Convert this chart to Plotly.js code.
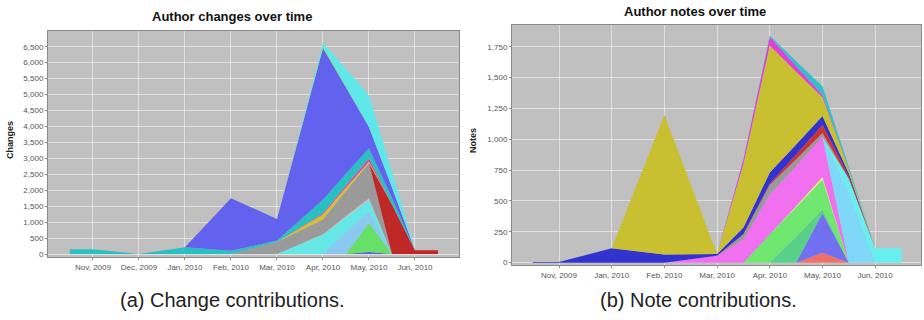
<!DOCTYPE html>
<html><head><meta charset="utf-8">
<script src="https://cdn.plot.ly/plotly-3.0.1.min.js"></script>
<style>html,body{margin:0;padding:0;background:#fff}#chart{width:924px;height:320px}</style>
</head><body><div id="chart"></div>
<script>
// ===== Left chart: Author changes over time (x = month index, .5 = half-way) =====
const changeMonths = ['Nov, 2009','Dec, 2009','Jan, 2010','Feb, 2010','Mar, 2010','Apr, 2010','May, 2010','Jun, 2010'];
const chgSmallBlueX = [5.5, 6, 6.5];            const chgSmallBlueY = [0, 60, 0];
const chgGreenX     = [5.5, 6, 6.5];            const chgGreenY     = [0, 910, 0];
const chgSkyX       = [5, 5.5, 6, 6.5];         const chgSkyY       = [0, 700, 380, 0];
const chgCyanX      = [4, 5, 5.5, 6, 6.5];      const chgCyanY      = [0, 600, 460, 350, 0];
const chgPinkX      = [4, 5, 6, 6.5];           const chgPinkY      = [0, 20, 50, 0];
const chgGrayX      = [3, 4, 5, 6, 6.5];        const chgGrayY      = [0, 380, 460, 1100, 0];
const chgRedX       = [6, 6.5, 7, 7.5];         const chgRedY       = [0, 1550, 120, 120];
const chgYellowX    = [4, 5, 6, 6.5];           const chgYellowY    = [0, 170, 50, 0];
const chgMagentaX   = [4, 5, 6, 6.5];           const chgMagentaY   = [0, 30, 100, 0];
const chgTealX      = [-0.5, 0, 1, 2, 3, 4, 5, 6, 6.5, 7];
const chgTealY      = [150, 150, 0, 210, 100, 40, 420, 320, 205, 0];
const chgBlueX      = [2, 3, 4, 5, 6, 6.5, 7];  const chgBlueY      = [0, 1650, 680, 4750, 660, 330, 0];
const chgLimeX      = [4, 5, 6];                const chgLimeY      = [0, 60, 0];
const chgAquaX      = [4, 5, 6, 6.5, 7];        const chgAquaY      = [0, 110, 1000, 500, 0];

// ===== Right chart: Author notes over time =====
const noteMonths = ['Nov, 2009','Jan, 2010','Feb, 2010','Mar, 2010','Apr, 2010','May, 2010','Jun, 2010'];
const ntSalmonX   = [4.5, 5, 5.5];              const ntSalmonY   = [0, 80, 0];
const ntPurpleX   = [4.5, 5, 5.5];              const ntPurpleY   = [0, 320, 0];
const ntMintX     = [4, 4.5, 5, 5.5];           const ntMintY     = [0, 210, 30, 0];
const ntGreenX    = [3.5, 4, 4.5, 5, 5.5];      const ntGreenY    = [0, 230, 240, 244, 0];
const ntPaleX     = [4, 5, 5.5];                const ntPaleY     = [0, 20, 0];
const ntPinkX     = [2, 3, 4, 5, 5.5];          const ntPinkY     = [0, 55, 320, 326, 0];
const ntSkyX      = [5, 5.5, 6];                const ntSkyY      = [0, 560, 0];
const ntCyanX     = [5, 5.5, 6, 6.5];           const ntCyanY     = [0, 120, 116, 116];
const ntGrayX     = [3, 4, 5, 5.5];             const ntGrayY     = [0, 80, 30, 0];
const ntRedX      = [3, 4, 5, 5.5, 6];          const ntRedY      = [0, 10, 66, 20, 0];
const ntBlueX     = [-0.5, 0, 1, 2, 3, 4, 5, 5.5, 6];
const ntBlueY     = [5, 5, 116, 67, 15, 90, 73, 25, 0];
const ntYellowX   = [1, 2, 3, 4, 5, 5.5, 6];    const ntYellowY   = [0, 1130, 0, 1030, 151, 30, 0];
const ntMagentaX  = [3, 4, 5, 5.5];             const ntMagentaY  = [0, 70, 20, 0];
const ntTealX     = [3, 4, 5, 5.5, 6];          const ntTealY     = [0, 10, 70, 20, 0];

const changeSeries = [
  [chgSmallBlueX, chgSmallBlueY, '#5a5ae2'], [chgGreenX, chgGreenY, '#66e066'],
  [chgSkyX, chgSkyY, '#8acaf0'], [chgCyanX, chgCyanY, '#66e8e8'],
  [chgPinkX, chgPinkY, '#f0b4b8'], [chgGrayX, chgGrayY, '#9a9a9a'],
  [chgRedX, chgRedY, '#c02828'], [chgYellowX, chgYellowY, '#d4c030'],
  [chgMagentaX, chgMagentaY, '#e040b8'], [chgTealX, chgTealY, '#28c0c0'],
  [chgBlueX, chgBlueY, '#6262ee'], [chgLimeX, chgLimeY, '#70e070'],
  [chgAquaX, chgAquaY, '#60e8e8']
];
const noteSeries = [
  [ntSalmonX, ntSalmonY, '#f07068'], [ntPurpleX, ntPurpleY, '#7070f0'],
  [ntMintX, ntMintY, '#58d088'], [ntGreenX, ntGreenY, '#70e870'],
  [ntPaleX, ntPaleY, '#f0f080'], [ntPinkX, ntPinkY, '#f070f0'],
  [ntSkyX, ntSkyY, '#80d8f8'], [ntCyanX, ntCyanY, '#68f0f0'],
  [ntGrayX, ntGrayY, '#999999'], [ntRedX, ntRedY, '#d03030'],
  [ntBlueX, ntBlueY, '#3232d0'], [ntYellowX, ntYellowY, '#c8c030'],
  [ntMagentaX, ntMagentaY, '#e040d8'], [ntTealX, ntTealY, '#30c0c8']
];

const traces = [];
changeSeries.forEach(function(s){
  traces.push({type:'scatter', mode:'none', x:s[0], y:s[1], stackgroup:'chg', stackgaps:'interpolate',
    fillcolor:s[2], xaxis:'x', yaxis:'y', hoverinfo:'skip', showlegend:false});
});
noteSeries.forEach(function(s){
  traces.push({type:'scatter', mode:'none', x:s[0], y:s[1], stackgroup:'note', stackgaps:'interpolate',
    fillcolor:s[2], xaxis:'x2', yaxis:'y2', hoverinfo:'skip', showlegend:false});
});

const W = 924, H = 320;
function px(x){return x / W;}
function py(y){return 1 - y / H;}
const FF = 'Liberation Sans, Arial, sans-serif';
const tickFont = {family:FF, size:8, color:'#555'};
const gridC = 'rgba(255,255,255,0.5)';
function xAxis(dom, rng, labels){
  return {domain:dom, range:rng, tickvals:labels.map(function(_,i){return i;}), ticktext:labels,
    showgrid:true, gridcolor:gridC, gridwidth:1, zeroline:false, showline:true, linecolor:'#8a8a8a',
    mirror:true, ticks:'outside', ticklen:2, tickcolor:'#888', tickfont:tickFont, fixedrange:true};
}
function yAxis(dom, rng, dt){
  return {domain:dom, range:rng, dtick:dt, tick0:0, tickformat:',d', showgrid:true, gridcolor:gridC,
    gridwidth:1, zeroline:false, showline:true, linecolor:'#8a8a8a', mirror:true, ticks:'outside',
    ticklen:2, tickcolor:'#888', tickfont:tickFont, fixedrange:true};
}
function ann(text, x, y, size, color, angle){
  return {text:text, x:px(x), y:py(y), xref:'paper', yref:'paper', xanchor:'center', yanchor:'middle',
    showarrow:false, textangle:angle || 0, font:{family:FF, size:size, color:color}};
}
const layout = {
  width:W, height:H, margin:{l:0, r:0, t:0, b:0}, paper_bgcolor:'#ffffff', plot_bgcolor:'#c0c0c0',
  showlegend:false,
  xaxis: xAxis([px(48), px(459)], [-0.978, 7.957], changeMonths),
  yaxis: yAxis([py(257), py(31)], [-94, 6993], 500),
  xaxis2: Object.assign(xAxis([px(512), px(921)], [-0.892, 6.87], noteMonths), {anchor:'y2'}),
  yaxis2: Object.assign(yAxis([py(265), py(25)], [-19, 1926], 250), {anchor:'x2'}),
  annotations: [
    ann('<b>Author changes over time</b>', 232, 17, 13, '#111'),
    ann('<b>Author notes over time</b>', 695, 11, 13, '#111'),
    ann('<b>Changes</b>', 10, 140, 9, '#222', -90),
    ann('<b>Notes</b>', 473, 140, 9, '#222', -90),
    ann('(a) Change contributions.', 232, 300, 20, '#222'),
    ann('(b) Note contributions.', 698, 300, 20, '#222')
  ]
};
Plotly.newPlot('chart', traces, layout, {staticPlot:true, displayModeBar:false});
</script></body></html>
